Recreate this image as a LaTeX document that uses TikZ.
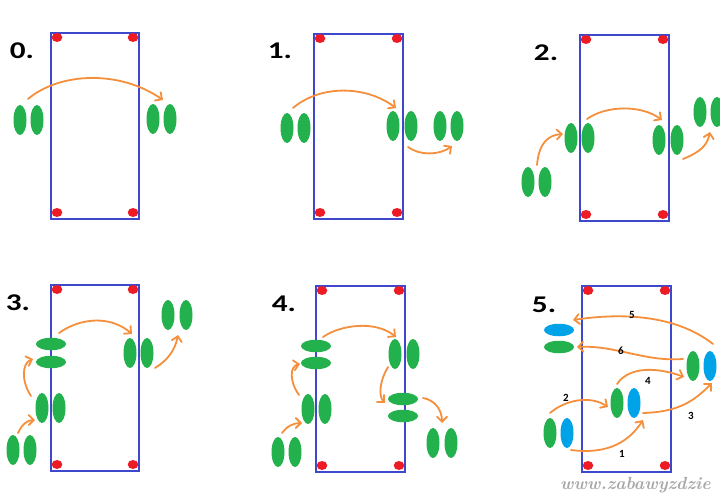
\documentclass[tikz,border=0pt]{standalone}
\usepackage{fontspec}
\newfontfamily\lblfont{Carlito}
\usetikzlibrary{shapes.geometric,arrows.meta}
\definecolor{memb}{HTML}{3F48CC}
\definecolor{dotred}{HTML}{ED1C24}
\definecolor{grn}{HTML}{22B14C}
\definecolor{cyanb}{HTML}{00A2E8}
\definecolor{orng}{HTML}{F58F3C}
\definecolor{wmgray}{HTML}{A8A8A8}
\tikzset{
  cellv/.style={ellipse, fill=grn, minimum width=13pt, minimum height=30pt, inner sep=0pt},
  cellh/.style={ellipse, fill=grn, minimum width=30pt, minimum height=12.5pt, inner sep=0pt},
  bluev/.style={cellv, fill=cyanb},
  blueh/.style={cellh, fill=cyanb},
  membox/.style={draw=memb, line width=2pt},
  cornerdot/.style={ellipse, fill=dotred, minimum width=10.5pt, minimum height=9pt, inner sep=0pt},
  flow/.style={draw=orng, line width=1.8pt, line cap=round, -{Straight Barb[length=5pt,width=10pt,line cap=round]}},
  steplbl/.style={font=\lblfont\bfseries\fontsize{24}{24}\selectfont, inner sep=0pt},
  numlbl/.style={font=\lblfont\bfseries\fontsize{11}{11}\selectfont, inner sep=0pt},
}
\newcommand\memrect[5]{%
  \draw[membox] (#2,#3) rectangle (#4,#5);
  \node[cornerdot] (#1tl) at (#2+6,#3+4.5) {};
  \node[cornerdot] (#1tr) at (#4-6,#3+4.5) {};
  \node[cornerdot] (#1bl) at (#2+6,#5-6.5) {};
  \node[cornerdot] (#1br) at (#4-6,#5-6.5) {};
}
\begin{document}
\begin{tikzpicture}[x=1pt,y=-1pt]
\useasboundingbox (0,0) rectangle (720,500);
\fill[white] (0,0) rectangle (720,500);
\clip (0,0) rectangle (720,500);

% ---------------- panel 0
\memrect{m0}{51}{33}{139}{219}
\node[steplbl] (l0) at (22,51) {\scalebox{1.3}[1]{0.}};
\node[cellv] (a0a) at (20,120) {};
\node[cellv] (a0b) at (37,120) {};
\node[cellv] (b0a) at (153,119) {};
\node[cellv] (b0b) at (170,119) {};
\coordinate (f0s) at (28,99);
\coordinate (f0e) at (163,100);
\draw[flow] (f0s) .. controls (60,72) and (120,70) .. (f0e);

% ---------------- panel 1
\memrect{m1}{314}{34}{403}{219}
\node[steplbl] (l1) at (280,51) {\scalebox{1.3}[1]{1.}};
\node[cellv] (a1a) at (287,128) {};
\node[cellv] (a1b) at (304,128) {};
\node[cellv] (b1a) at (393,126) {};
\node[cellv] (b1b) at (411,126) {};
\node[cellv] (c1a) at (440,126) {};
\node[cellv] (c1b) at (457,126) {};
\coordinate (f1s) at (293,108);
\coordinate (f1e) at (396,108);
\coordinate (g1s) at (408,147);
\coordinate (g1e) at (452,146);
\draw[flow] (f1s) .. controls (320,85) and (365,85) .. (f1e);
\draw[flow] (g1s) .. controls (420,156) and (440,155) .. (g1e);

% ---------------- panel 2
\memrect{m2}{580}{35}{669}{221}
\node[steplbl] (l2) at (546,53) {\scalebox{1.3}[1]{2.}};
\node[cellv] (a2a) at (528,182) {};
\node[cellv] (a2b) at (545,182) {};
\node[cellv] (b2a) at (571,138) {};
\node[cellv] (b2b) at (588,138) {};
\node[cellv] (c2a) at (659,140) {};
\node[cellv] (c2b) at (677,140) {};
\node[cellv] (d2a) at (700,112) {};
\node[cellv] (d2b) at (717,112) {};
\coordinate (f2s) at (537,165);
\coordinate (f2e) at (563,134);
\coordinate (g2s) at (587,119);
\coordinate (g2e) at (662,120);
\coordinate (h2s) at (683,159);
\coordinate (h2e) at (710,132);
\draw[flow] (f2s) .. controls (539,142) and (549,135) .. (f2e);
\draw[flow] (g2s) .. controls (605,106) and (640,104) .. (g2e);
\draw[flow] (h2s) .. controls (700,152) and (707,146) .. (h2e);

% ---------------- panel 3
\memrect{m3}{51}{285}{139}{471}
\node[steplbl] (l3) at (18,303) {\scalebox{1.3}[1]{3.}};
\node[cellv] (a3a) at (13,450) {};
\node[cellv] (a3b) at (30,450) {};
\node[cellv] (b3a) at (42,408) {};
\node[cellv] (b3b) at (59,408) {};
\node[cellh] (c3a) at (51,344) {};
\node[cellh] (c3b) at (51,362) {};
\node[cellv] (d3a) at (130,353) {};
\node[cellv] (d3b) at (147,353) {};
\node[cellv] (e3a) at (168,315) {};
\node[cellv] (e3b) at (186,315) {};
\coordinate (f3s) at (18,433);
\coordinate (f3e) at (35,420);
\coordinate (g3s) at (31,396);
\coordinate (g3e) at (33,359);
\coordinate (h3s) at (59,333);
\coordinate (h3e) at (132,334);
\coordinate (k3s) at (155,368);
\coordinate (k3e) at (178,335);
\draw[flow] (f3s) .. controls (22,424) and (28,420) .. (f3e);
\draw[flow] (g3s) .. controls (21,381) and (22,363) .. (g3e);
\draw[flow] (h3s) .. controls (80,318) and (110,315) .. (h3e);
\draw[flow] (k3s) .. controls (168,360) and (175,350) .. (k3e);

% ---------------- panel 4
\memrect{m4}{316}{286}{405}{472}
\node[steplbl] (l4) at (284,304) {\scalebox{1.3}[1]{4.}};
\node[cellv] (a4a) at (278,452) {};
\node[cellv] (a4b) at (295,452) {};
\node[cellv] (b4a) at (308,409) {};
\node[cellv] (b4b) at (325,409) {};
\node[cellh] (c4a) at (316,346) {};
\node[cellh] (c4b) at (316,363) {};
\node[cellv] (d4a) at (395,354) {};
\node[cellv] (d4b) at (413,354) {};
\node[cellh] (e4a) at (403,399) {};
\node[cellh] (e4b) at (403,416) {};
\node[cellv] (g4a) at (433,443) {};
\node[cellv] (g4b) at (451,443) {};
\coordinate (f4s) at (282,433);
\coordinate (f4e) at (302,423);
\coordinate (p4s) at (299,395);
\coordinate (p4e) at (300,364);
\coordinate (q4s) at (323,337);
\coordinate (q4e) at (396,337);
\coordinate (r4s) at (388,367);
\coordinate (r4e) at (385,403);
\coordinate (s4s) at (423,398);
\coordinate (s4e) at (442,423);
\draw[flow] (f4s) .. controls (287,426) and (294,423) .. (f4e);
\draw[flow] (p4s) .. controls (289,381) and (290,366) .. (p4e);
\draw[flow] (q4s) .. controls (340,325) and (375,320) .. (q4e);
\draw[flow] (r4s) .. controls (380,380) and (378,396) .. (r4e);
\draw[flow] (s4s) .. controls (435,400) and (442,410) .. (s4e);

% ---------------- panel 5
\memrect{m5}{582}{286}{671}{472}
\node[steplbl] (l5) at (544,305) {\scalebox{1.3}[1]{5.}};
\node[blueh] (t5a) at (559,330) {};
\node[cellh] (t5b) at (559,347) {};
\node[cellv] (a5a) at (550,433) {};
\node[bluev] (a5b) at (567,433) {};
\node[cellv] (b5a) at (617,403) {};
\node[bluev] (b5b) at (634,403) {};
\node[cellv] (c5a) at (693,366) {};
\node[bluev] (c5b) at (710,366) {};
\coordinate (u1s) at (571,450);
\coordinate (u1e) at (643,420);
\coordinate (u2s) at (550,413);
\coordinate (u2e) at (608,407);
\coordinate (u3s) at (643,413);
\coordinate (u3e) at (712,383);
\coordinate (u4s) at (617,384);
\coordinate (u4e) at (684,377);
\coordinate (u5s) at (713,344);
\coordinate (u5e) at (573,320);
\coordinate (u6s) at (683,359);
\coordinate (u6e) at (577,347);
\draw[flow] (u1s) .. controls (610,455) and (630,440) .. (u1e);
\draw[flow] (u2s) .. controls (565,400) and (590,395) .. (u2e);
\draw[flow] (u3s) .. controls (680,412) and (695,400) .. (u3e);
\draw[flow] (u4s) .. controls (630,365) and (660,368) .. (u4e);
\draw[flow] (u5s) .. controls (685,322) and (640,310) .. (u5e);
\draw[flow] (u6s) .. controls (645,362) and (615,345) .. (u6e);
\node[numlbl] (n1) at (622,454) {1};
\node[numlbl] (n2) at (566,398) {2};
\node[numlbl] (n3) at (691,416) {3};
\node[numlbl] (n4) at (648,381) {4};
\node[numlbl] (n5) at (632,315) {5};
\node[numlbl] (n6) at (621,351) {6};

% watermark
\node[anchor=base west, inner sep=0pt, text=wmgray, font=\itshape\bfseries\fontsize{17.5}{17.5}\selectfont] (wm) at (560,489) {www.zabawyzdzie};
\end{tikzpicture}
\end{document}
